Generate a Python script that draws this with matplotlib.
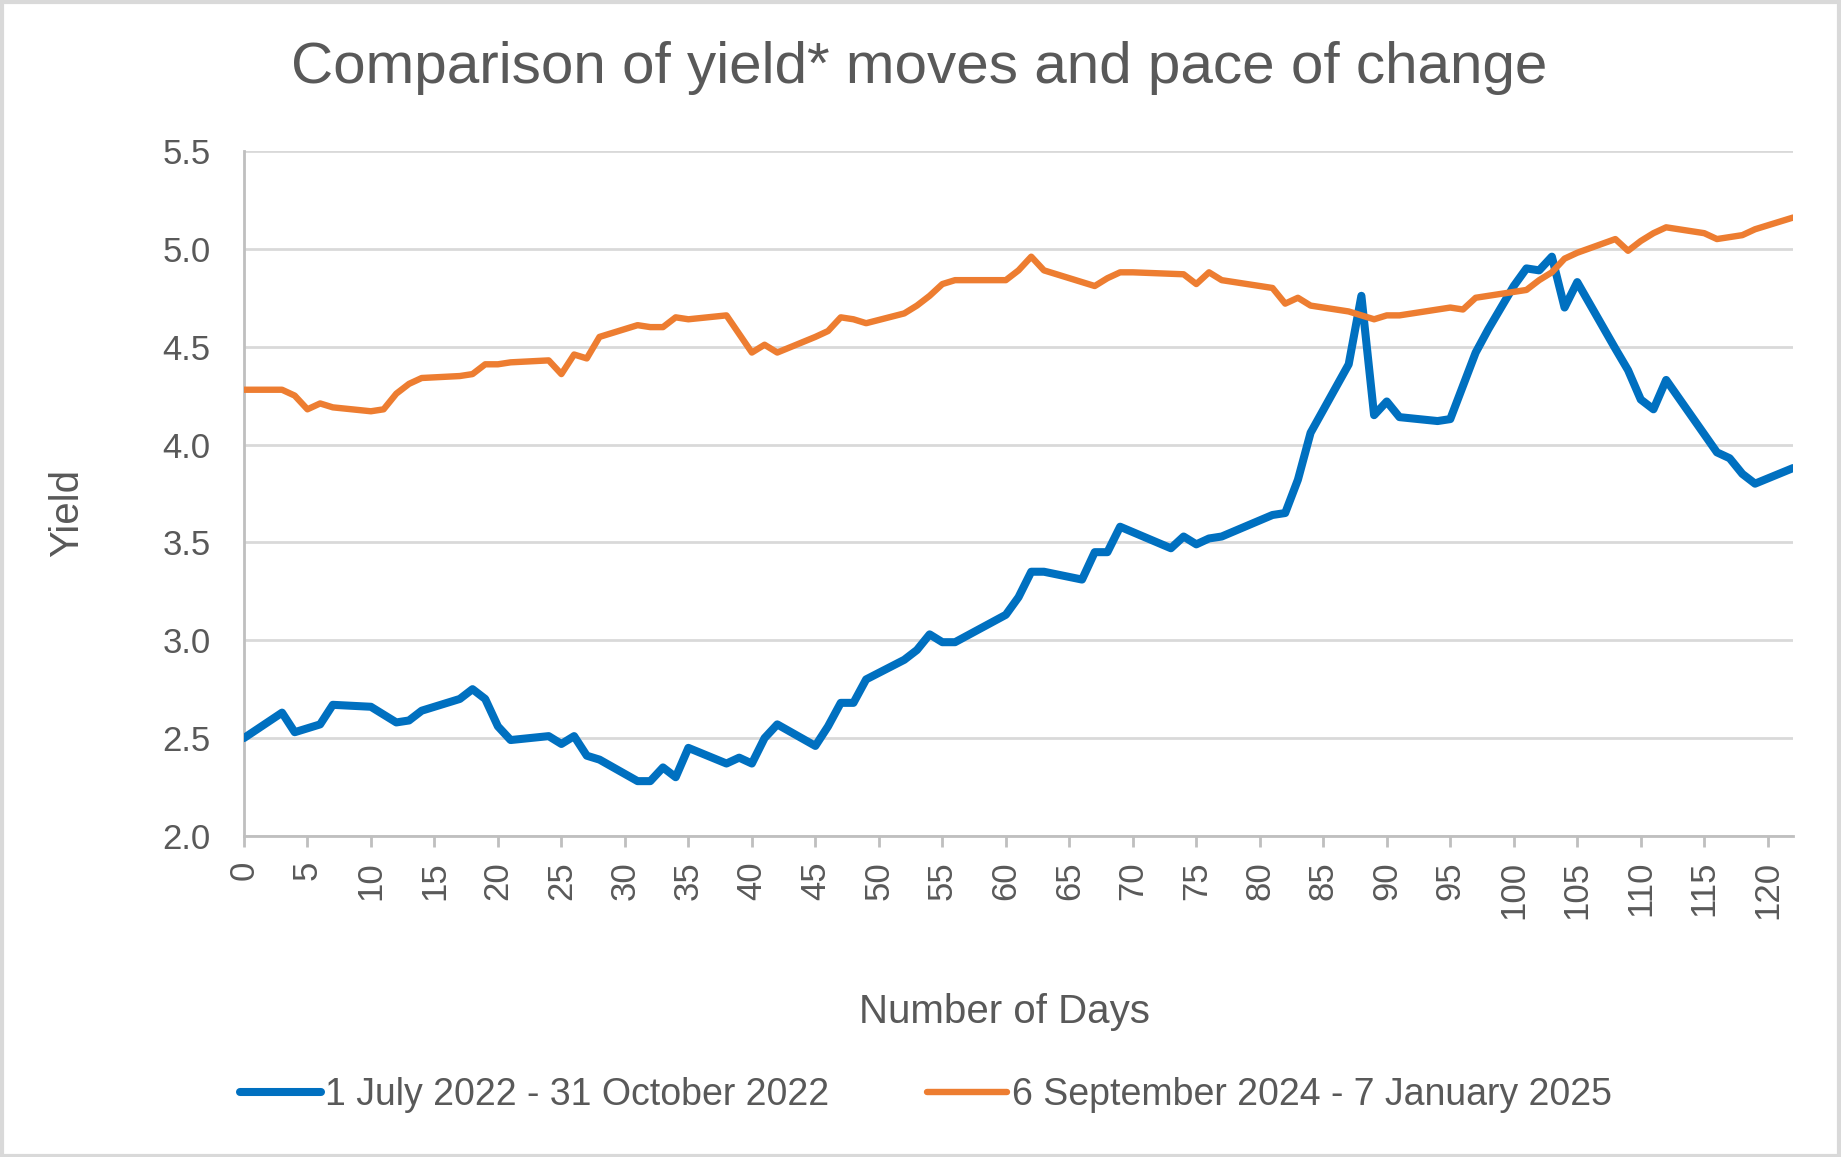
import matplotlib
matplotlib.use("Agg")
import matplotlib.pyplot as plt
from matplotlib.patches import Rectangle

plt.rcParams['font.family'] = ['Liberation Sans', 'DejaVu Sans']

# 1 July 2022 - 31 October 2022
days_2022 = [0, 3, 4, 5, 6, 7, 10, 11, 12, 13, 14, 17, 18, 19, 20, 21, 24, 25, 26, 27, 28,
             31, 32, 33, 34, 35, 38, 39, 40, 41, 42, 45, 46, 47, 48, 49, 52, 53, 54, 55, 56,
             60, 61, 62, 63, 66, 67, 68, 69, 73, 74, 75, 76, 77, 81, 82, 83, 84, 87, 88,
             89, 90, 91, 94, 95, 96, 97, 98, 99, 100, 101, 102, 103, 104, 105, 108, 109,
             110, 111, 112, 116, 117, 118, 119, 122]
yield_2022 = [2.50, 2.63, 2.53, 2.55, 2.57, 2.67, 2.66, 2.62, 2.58, 2.59, 2.64, 2.70, 2.75,
              2.70, 2.56, 2.49, 2.51, 2.47, 2.51, 2.41, 2.39, 2.28, 2.28, 2.35, 2.30, 2.45,
              2.37, 2.40, 2.37, 2.50, 2.57, 2.46, 2.56, 2.68, 2.68, 2.80, 2.90, 2.95, 3.03,
              2.99, 2.99, 3.13, 3.22, 3.35, 3.35, 3.31, 3.45, 3.45, 3.58, 3.47, 3.53, 3.49,
              3.52, 3.53, 3.64, 3.65, 3.82, 4.06, 4.41, 4.76, 4.15, 4.22, 4.14, 4.12, 4.13,
              4.30, 4.47, 4.59, 4.70, 4.81, 4.90, 4.89, 4.96, 4.70, 4.83, 4.49, 4.38, 4.23,
              4.18, 4.33, 3.96, 3.93, 3.85, 3.80, 3.88]

# 6 September 2024 - 7 January 2025
days_2024 = [0, 3, 4, 5, 6, 7, 10, 11, 12, 13, 14, 17, 18, 19, 20, 21, 24, 25, 26, 27, 28,
             31, 32, 33, 34, 35, 38, 40, 41, 42, 45, 46, 47, 48, 49, 52, 53, 54, 55, 56,
             60, 61, 62, 63, 67, 68, 69, 70, 74, 75, 76, 77, 81, 82, 83, 84, 87, 89, 90,
             91, 95, 96, 97, 98, 100, 101, 102, 103, 104, 105, 108, 109, 110, 111, 112,
             115, 116, 118, 119, 122]
yield_2024 = [4.28, 4.28, 4.25, 4.18, 4.21, 4.19, 4.17, 4.18, 4.26, 4.31, 4.34, 4.35, 4.36,
              4.41, 4.41, 4.42, 4.43, 4.36, 4.46, 4.44, 4.55, 4.61, 4.60, 4.60, 4.65, 4.64,
              4.66, 4.47, 4.51, 4.47, 4.55, 4.58, 4.65, 4.64, 4.62, 4.67, 4.71, 4.76, 4.82,
              4.84, 4.84, 4.89, 4.96, 4.89, 4.81, 4.85, 4.88, 4.88, 4.87, 4.82, 4.88, 4.84,
              4.80, 4.72, 4.75, 4.71, 4.68, 4.64, 4.66, 4.66, 4.70, 4.69, 4.75, 4.76, 4.78,
              4.79, 4.84, 4.88, 4.95, 4.98, 5.05, 4.99, 5.04, 5.08, 5.11, 5.08, 5.05, 5.07,
              5.10, 5.16]

label_2022 = '1 July 2022 - 31 October 2022'
label_2024 = '6 September 2024 - 7 January 2025'

txt = '#595959'
grid = '#d9d9d9'

fig = plt.figure(figsize=(18.41, 11.57), dpi=100)
ax = fig.add_axes([0.1325, 0.2775, 0.974 - 0.1325, 0.8695 - 0.2775])

ax.plot(days_2022, yield_2022, color='#0070C0', lw=5.8, label=label_2022,
        solid_joinstyle='round', solid_capstyle='round', zorder=3)
ax.plot(days_2024, yield_2024, color='#ED7D31', lw=4.6, label=label_2024,
        solid_joinstyle='round', solid_capstyle='round', zorder=3)

ax.set_xlim(0, 122)
ax.set_ylim(2.0, 5.5)
ax.set_yticks([2.0, 2.5, 3.0, 3.5, 4.0, 4.5, 5.0, 5.5])
ax.set_yticklabels(['2.0', '2.5', '3.0', '3.5', '4.0', '4.5', '5.0', '5.5'])
ax.set_xticks(range(0, 121, 5))
ax.set_xticklabels([str(v) for v in range(0, 121, 5)], rotation=90)

ax.grid(axis='y', color=grid, lw=2)
ax.set_axisbelow(True)
for s in ['top', 'right']:
    ax.spines[s].set_visible(False)
for s in ['left', 'bottom']:
    ax.spines[s].set_color('#bfbfbf')
    ax.spines[s].set_linewidth(2)
ax.tick_params(axis='y', length=0, labelsize=25, labelcolor=txt, pad=24)
ax.tick_params(axis='x', length=8, width=2, color='#bfbfbf', labelsize=25,
               labelcolor=txt, pad=10)

fig.text(0.4995, 0.941, 'Comparison of yield* moves and pace of change', ha='center',
         va='center', fontsize=42, color=txt)
fig.text(0.5455, 0.1253, 'Number of Days', ha='center', va='center', fontsize=29,
         color=txt)
fig.text(0.0364, 0.5566, 'Yield', ha='center', va='center', fontsize=29, color=txt,
         rotation=90)

fig.legend(loc='center', bbox_to_anchor=(0.503, 0.0536), ncol=2, frameon=False,
           fontsize=27, labelcolor=txt, handlelength=2.15, handletextpad=0.12,
           columnspacing=2.6)

fig.patches.append(Rectangle((0.001, 0.001), 0.998, 0.997, transform=fig.transFigure,
                             fill=False, edgecolor='#d9d9d9', lw=3))

fig.savefig('out.png', dpi=100)
